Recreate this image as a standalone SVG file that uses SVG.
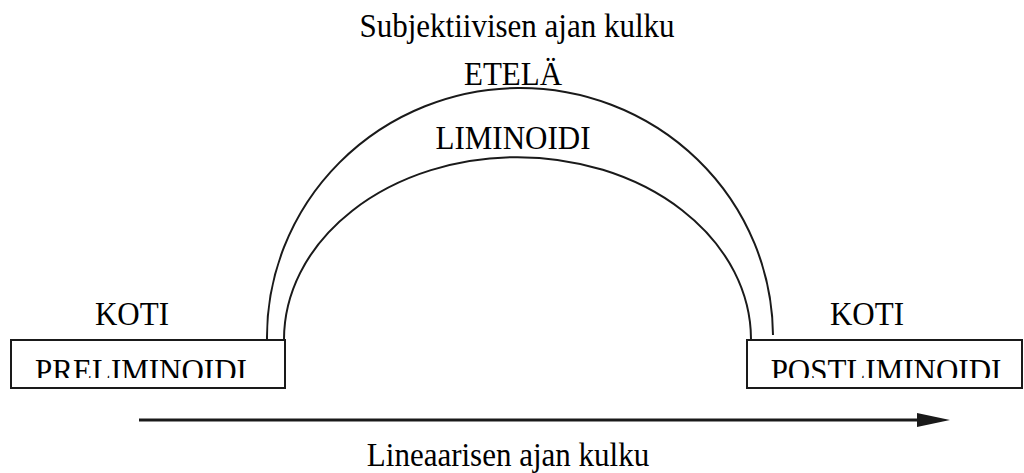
<svg xmlns="http://www.w3.org/2000/svg" width="1024" height="473" viewBox="0 0 1024 473">
<style>
text{font-family:"Liberation Serif","Times New Roman",serif;font-size:31px;fill:#000;text-anchor:middle}
.box{fill:#fff;stroke:#1a1a1a;stroke-width:2}
.arc{fill:none;stroke:#1a1a1a;stroke-width:2}
</style>
<defs>
<clipPath id="clipL"><rect x="12" y="341" width="272" height="37"/></clipPath>
<clipPath id="clipR"><rect x="748" y="341" width="274" height="37"/></clipPath>
</defs>
<g id="title"><text transform="translate(517,37) scale(1,1.06)">Subjektiivisen ajan kulku</text></g>
<g id="etela"><text transform="translate(513,85) scale(1,1.06)">ETELÄ</text></g>
<g id="liminoidi">
<path class="arc" d="M267,339 A253,249 0 0 1 773,335"/>
<path class="arc" d="M284,340 A233,182 0 0 1 751,339"/>
<text transform="translate(513,148.5) scale(1,1.06)">LIMINOIDI</text>
</g>
<g id="preliminoidi">
<text transform="translate(132,325) scale(1,1.06)">KOTI</text>
<rect class="box" x="11" y="340" width="274" height="48"/>
<g clip-path="url(#clipL)"><text transform="translate(141,381.5) scale(1,1.06)">PRELIMINOIDI</text></g>
</g>
<g id="postliminoidi">
<text transform="translate(867,325) scale(1,1.06)">KOTI</text>
<rect class="box" x="747" y="340" width="275" height="48"/>
<g clip-path="url(#clipR)"><text transform="translate(886,381.5) scale(1,1.06)">POSTLIMINOIDI</text></g>
</g>
<g id="connectors">
<line x1="139" y1="420" x2="918" y2="420" stroke="#1a1a1a" stroke-width="3"/>
<polygon points="917,413 950,420 917,427" fill="#1a1a1a"/>
</g>
<g id="footer"><text transform="translate(508,466) scale(1,1.06)">Lineaarisen ajan kulku</text></g>
</svg>
